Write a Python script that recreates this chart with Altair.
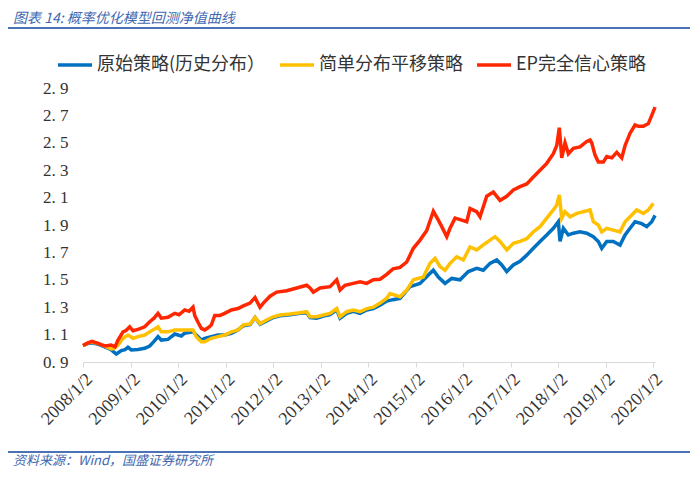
import altair as alt
import pandas as pd

# ---- data (decimal years, net value) ----
series_names = ["原始策略(历史分布）", "简单分布平移策略", "EP完全信心策略"]
series_colors = ["#0070C0", "#FFC000", "#FF2600"]

t_blue = [2008.000, 2008.105, 2008.190, 2008.316, 2008.457, 2008.526, 2008.596, 2008.701, 2008.806, 2008.884,
          2008.947, 2009.017, 2009.158, 2009.299, 2009.404, 2009.495, 2009.579, 2009.648, 2009.789, 2009.931,
          2010.069, 2010.141, 2010.316, 2010.385, 2010.491, 2010.562, 2010.701, 2010.842, 2010.983, 2011.122,
          2011.263, 2011.375, 2011.516, 2011.621, 2011.726, 2011.867, 2012.006, 2012.147, 2012.358, 2012.568,
          2012.709, 2012.779, 2012.920, 2013.059, 2013.200, 2013.341, 2013.411, 2013.552, 2013.691, 2013.832,
          2013.973, 2014.112, 2014.253, 2014.394, 2014.526, 2014.674, 2014.884, 2015.095, 2015.305, 2015.375,
          2015.480, 2015.621, 2015.762, 2015.937, 2016.112, 2016.288, 2016.427, 2016.568, 2016.709, 2016.815,
          2016.920, 2017.059, 2017.200, 2017.341, 2017.480, 2017.621, 2017.762, 2017.901, 2018.006, 2018.042,
          2018.112, 2018.217, 2018.322, 2018.463, 2018.604, 2018.743, 2018.848, 2018.920, 2019.025, 2019.164,
          2019.305, 2019.411, 2019.516, 2019.621, 2019.762, 2019.867, 2019.973, 2020.042]
v_blue = [1.020, 1.035, 1.040, 1.030, 1.010, 1.000, 0.988, 0.958, 0.983, 0.990,
          1.007, 0.988, 0.992, 1.000, 1.017, 1.050, 1.085, 1.060, 1.065, 1.104,
          1.090, 1.110, 1.120, 1.097, 1.060, 1.073, 1.085, 1.097, 1.097, 1.110,
          1.134, 1.165, 1.172, 1.225, 1.175, 1.200, 1.225, 1.238, 1.245, 1.255,
          1.260, 1.225, 1.220, 1.235, 1.245, 1.280, 1.220, 1.255, 1.270, 1.255,
          1.280, 1.290, 1.315, 1.345, 1.355, 1.365, 1.450, 1.474, 1.547, 1.570,
          1.520, 1.474, 1.510, 1.500, 1.560, 1.584, 1.570, 1.620, 1.645, 1.608,
          1.560, 1.608, 1.635, 1.680, 1.730, 1.780, 1.827, 1.876, 1.924, 1.780,
          1.876, 1.827, 1.840, 1.850, 1.840, 1.815, 1.780, 1.730, 1.780, 1.780,
          1.754, 1.827, 1.876, 1.924, 1.910, 1.888, 1.924, 1.970]

t_yellow = [2008.000, 2008.105, 2008.190, 2008.316, 2008.457, 2008.526, 2008.596, 2008.653, 2008.737, 2008.842,
            2008.947, 2009.053, 2009.158, 2009.299, 2009.404, 2009.579, 2009.648, 2009.789, 2009.931, 2010.141,
            2010.316, 2010.385, 2010.491, 2010.562, 2010.701, 2010.842, 2010.983, 2011.122, 2011.263, 2011.375,
            2011.516, 2011.621, 2011.726, 2011.867, 2012.006, 2012.147, 2012.358, 2012.568, 2012.709, 2012.779,
            2012.920, 2013.059, 2013.200, 2013.341, 2013.411, 2013.552, 2013.691, 2013.832, 2013.973, 2014.112,
            2014.253, 2014.394, 2014.463, 2014.674, 2014.815, 2014.954, 2015.164, 2015.305, 2015.411, 2015.516,
            2015.621, 2015.726, 2015.867, 2016.006, 2016.147, 2016.288, 2016.427, 2016.568, 2016.674, 2016.779,
            2016.920, 2017.059, 2017.200, 2017.341, 2017.480, 2017.621, 2017.762, 2017.901, 2017.973, 2018.027,
            2018.078, 2018.147, 2018.253, 2018.394, 2018.533, 2018.674, 2018.743, 2018.848, 2018.920, 2019.025,
            2019.164, 2019.305, 2019.411, 2019.516, 2019.657, 2019.796, 2019.901, 2020.006]
v_yellow = [1.020, 1.040, 1.045, 1.035, 1.015, 1.005, 0.995, 1.000, 1.024, 1.073,
            1.097, 1.073, 1.085, 1.097, 1.120, 1.157, 1.120, 1.120, 1.134, 1.134,
            1.134, 1.085, 1.048, 1.048, 1.073, 1.085, 1.097, 1.120, 1.134, 1.170,
            1.177, 1.226, 1.180, 1.207, 1.230, 1.243, 1.250, 1.260, 1.267, 1.230,
            1.230, 1.243, 1.255, 1.290, 1.230, 1.267, 1.280, 1.267, 1.290, 1.300,
            1.330, 1.365, 1.400, 1.377, 1.425, 1.500, 1.520, 1.620, 1.657, 1.596,
            1.570, 1.620, 1.668, 1.645, 1.740, 1.718, 1.755, 1.790, 1.815, 1.780,
            1.718, 1.766, 1.780, 1.800, 1.850, 1.888, 1.950, 2.010, 2.046, 2.120,
            1.950, 1.997, 1.960, 1.985, 1.997, 2.010, 1.924, 1.900, 1.850, 1.876,
            1.863, 1.850, 1.924, 1.960, 2.010, 1.985, 2.010, 2.058]

t_red = [2008.000, 2008.105, 2008.190, 2008.316, 2008.457, 2008.526, 2008.596, 2008.674, 2008.737, 2008.842,
         2008.905, 2008.983, 2009.053, 2009.158, 2009.299, 2009.404, 2009.495, 2009.579, 2009.648, 2009.789,
         2009.931, 2010.021, 2010.141, 2010.232, 2010.316, 2010.352, 2010.421, 2010.491, 2010.562, 2010.632,
         2010.701, 2010.773, 2010.884, 2010.983, 2011.122, 2011.263, 2011.375, 2011.516, 2011.621, 2011.726,
         2011.796, 2011.937, 2012.078, 2012.288, 2012.499, 2012.709, 2012.779, 2012.848, 2012.989, 2013.200,
         2013.341, 2013.411, 2013.516, 2013.691, 2013.832, 2013.973, 2014.112, 2014.253, 2014.394, 2014.526,
         2014.674, 2014.815, 2014.954, 2015.095, 2015.236, 2015.375, 2015.480, 2015.552, 2015.657, 2015.726,
         2015.832, 2015.973, 2016.078, 2016.147, 2016.288, 2016.358, 2016.499, 2016.638, 2016.779, 2016.920,
         2017.059, 2017.200, 2017.341, 2017.480, 2017.621, 2017.762, 2017.901, 2017.973, 2018.027, 2018.078,
         2018.147, 2018.217, 2018.322, 2018.463, 2018.604, 2018.674, 2018.709, 2018.779, 2018.848, 2018.954,
         2019.025, 2019.131, 2019.236, 2019.341, 2019.411, 2019.516, 2019.621, 2019.691, 2019.796, 2019.901,
         2019.973, 2020.042]
v_red = [1.020, 1.040, 1.050, 1.036, 1.017, 1.020, 1.024, 1.010, 1.060, 1.120,
         1.130, 1.157, 1.128, 1.138, 1.157, 1.194, 1.220, 1.255, 1.220, 1.226,
         1.255, 1.245, 1.280, 1.270, 1.300, 1.240, 1.190, 1.146, 1.134, 1.150,
         1.170, 1.240, 1.240, 1.255, 1.280, 1.290, 1.310, 1.330, 1.370, 1.300,
         1.330, 1.380, 1.410, 1.420, 1.440, 1.460, 1.440, 1.410, 1.440, 1.450,
         1.500, 1.425, 1.460, 1.474, 1.486, 1.474, 1.500, 1.504, 1.540, 1.580,
         1.590, 1.630, 1.730, 1.790, 1.860, 2.000, 1.936, 1.888, 1.815, 1.876,
         1.950, 1.936, 1.924, 2.020, 1.997, 1.960, 2.110, 2.140, 2.080, 2.110,
         2.155, 2.180, 2.200, 2.250, 2.300, 2.350, 2.420, 2.480, 2.610, 2.390,
         2.500, 2.420, 2.460, 2.470, 2.510, 2.520, 2.500, 2.410, 2.360, 2.360,
         2.400, 2.390, 2.430, 2.390, 2.480, 2.570, 2.630, 2.620, 2.620, 2.640,
         2.700, 2.760]

y_ticks = [0.9, 1.1, 1.3, 1.5, 1.7, 1.9, 2.1, 2.3, 2.5, 2.7, 2.9]
x_tick_years = list(range(2008, 2021))

title_text = "图表 14:  概率优化模型回测净值曲线"
source_text = "资料来源：Wind，国盛证券研究所"

# ---- build table ----
start = pd.Timestamp("2008-01-02")


def to_dates(ts):
    return [start + pd.to_timedelta((t - 2008.0) * 365.25, unit="D") for t in ts]


frames = []
for name, ts, vs in [(series_names[0], t_blue, v_blue),
                     (series_names[1], t_yellow, v_yellow),
                     (series_names[2], t_red, v_red)]:
    frames.append(pd.DataFrame({"date": to_dates(ts), "value": vs, "series": name}))
df = pd.concat(frames, ignore_index=True)

tick_dates = [alt.DateTime(year=y, month=1, date=2) for y in x_tick_years]

color_scale = alt.Scale(domain=series_names, range=series_colors)

x_enc = alt.X(
    "date:T",
    scale=alt.Scale(domain=[alt.DateTime(year=2008, month=1, date=2),
                            alt.DateTime(year=2020, month=1, date=17)]),
    axis=alt.Axis(
        values=tick_dates,
        labelExpr="timeFormat(datum.value, '%Y/%-m/%-d')",
        labelAngle=-45,
        labelOverlap=False,
        labelFont="Liberation Serif",
        labelFontSize=18,
        labelColor="#333333",
        labelPadding=3,
        grid=False,
        domainColor="#D9D9D9",
        tickColor="#D9D9D9",
        tickSize=5,
        title=None,
    ),
)
y_enc = alt.Y(
    "value:Q",
    scale=alt.Scale(domain=[0.9, 2.9], nice=False, zero=False),
    axis=alt.Axis(
        values=y_ticks,
        labelExpr="replace(format(datum.value, '.1f'), '.', '. ')",
        labelFont="Liberation Serif",
        labelFontSize=17,
        labelColor="#333333",
        labelPadding=15,
        domain=False,
        ticks=False,
        grid=False,
        title=None,
    ),
)


def series_layer(i):
    return alt.Chart(df).transform_filter(
        alt.datum.series == series_names[i]
    ).mark_line(strokeWidth=3.5).encode(
        x=x_enc,
        y=y_enc,
        color=alt.Color(
            "series:N",
            scale=color_scale,
            legend=alt.Legend(
                title=None,
                orient="none",
                direction="horizontal",
                legendX=-27,
                legendY=-42,
                symbolType="stroke",
                symbolSize=1156,
                symbolStrokeWidth=3.5,
                labelFont="Noto Sans CJK SC",
                labelFontSize=18,
                labelColor="#333333",
                labelOffset=3,
                labelLimit=400,
                columnPadding=7,
            ),
        ),
    )


one = pd.DataFrame({"k": [0]})

title_layer = alt.Chart(one).mark_text(
    text=title_text, font="Noto Sans CJK SC", fontSize=14, fontStyle="italic",
    color="#3F68B0", align="left", baseline="middle"
).encode(x=alt.value(-70), y=alt.value(-69))

rule_top = alt.Chart(one).mark_rule(color="#4A72B5", strokeWidth=2).encode(
    x=alt.value(-75), x2=alt.value(607), y=alt.value(-60))

rule_bottom = alt.Chart(one).mark_rule(color="#4A72B5", strokeWidth=2).encode(
    x=alt.value(-75), x2=alt.value(607), y=alt.value(364))

source_layer = alt.Chart(one).mark_text(
    text=source_text, font="Noto Sans CJK SC", fontSize=13, fontStyle="italic",
    color="#3F68B0", align="left", baseline="middle"
).encode(x=alt.value(-70), y=alt.value(373))

chart = alt.layer(
    series_layer(0), series_layer(1), series_layer(2),
    title_layer, rule_top, rule_bottom, source_layer
).properties(
    width=572, height=274,
    padding={"left": 75, "top": 80, "right": 37, "bottom": 108},
    autosize="none",
    background="white",
).configure_view(stroke=None)

chart.save("out.html", embed_options={"renderer": "svg", "actions": False})
